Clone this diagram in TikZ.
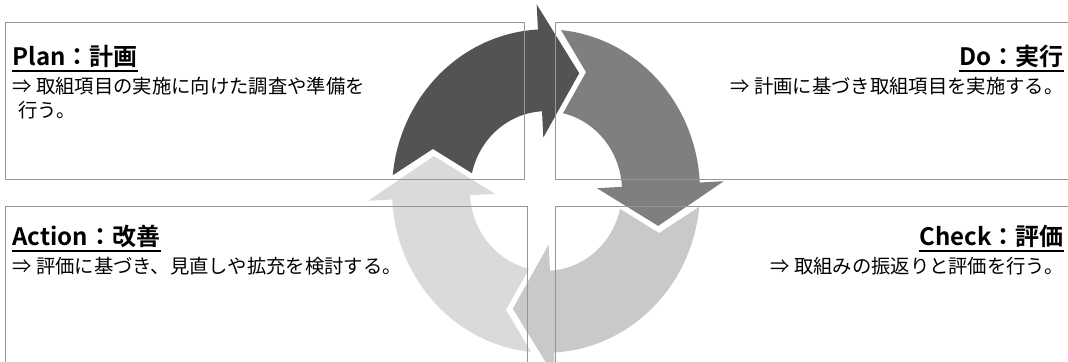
\documentclass[tikz,border=0pt]{standalone}
\usepackage{fontspec}
\setmainfont{Noto Sans CJK JP}[BoldFont={Noto Sans CJK JP Bold}]

\tikzset{every picture/.style={line width=0.75pt}}
\tikzset{
  box/.style={draw={rgb, 255:red, 150; green, 150; blue, 150 }, line width=0.75pt},
  ring/.style={shift={(546,191)}, yscale=1.05},
  titletext/.style={font=\bfseries\fontsize{18}{20}\selectfont, inner xsep=0pt, inner ysep=2.5pt},
  bodytext/.style={font=\fontsize{14.5}{17}\selectfont, inner sep=0pt},
  uline/.style={line width=1.3pt}
}

\begin{document}
\begin{tikzpicture}[x=0.75pt,y=0.75pt,yscale=-1,xscale=1]
	\clip (0,0) rectangle (1068,361);
	\fill[white] (0,0) rectangle (1068,361);

	%Shape: Circular Arrow [Check] 
	\begin{scope}[ring, rotate=0]
	\fill [fill={rgb, 255:red, 201; green, 201; blue, 201 }] (5.6:154) arc[start angle=5.6, end angle=87, radius=154] -- (87:178) -- (106.5:117) -- (87:51) -- (87:76) arc[start angle=87, end angle=12.9, radius=76] -- (19.5:120) -- cycle ;
	\end{scope}
	%Shape: Circular Arrow [Action] 
	\begin{scope}[ring, rotate=90]
	\fill [fill={rgb, 255:red, 218; green, 218; blue, 218 }] (5.6:154) arc[start angle=5.6, end angle=87, radius=154] -- (87:178) -- (106.5:117) -- (87:51) -- (87:76) arc[start angle=87, end angle=12.9, radius=76] -- (19.5:120) -- cycle ;
	\end{scope}
	%Shape: Circular Arrow [Plan] 
	\begin{scope}[ring, rotate=180]
	\fill [fill={rgb, 255:red, 83; green, 83; blue, 83 }] (5.6:154) arc[start angle=5.6, end angle=87, radius=154] -- (87:178) -- (106.5:117) -- (87:51) -- (87:76) arc[start angle=87, end angle=12.9, radius=76] -- (19.5:120) -- cycle ;
	\end{scope}
	%Shape: Circular Arrow [Do] 
	\begin{scope}[ring, rotate=270]
	\fill [fill={rgb, 255:red, 127; green, 127; blue, 127 }] (5.6:154) arc[start angle=5.6, end angle=87, radius=154] -- (87:178) -- (106.5:117) -- (87:51) -- (87:76) arc[start angle=87, end angle=12.9, radius=76] -- (19.5:120) -- cycle ;
	\end{scope}

	%Shape: Rectangle [Plan] 
	\draw [box] (5,22) rectangle (524,179) ;
	%Shape: Rectangle [Do] 
	\draw [box] (555,22) rectangle (1080,179) ;
	%Shape: Rectangle [Action] 
	\draw [box] (5,206) rectangle (527,380) ;
	%Shape: Rectangle [Check] 
	\draw [box] (555,206) rectangle (1080,380) ;

	% Text Node
	\node [titletext, anchor=west] (plantitle) at (12,56) {Plan：計画};
	\draw [uline] (plantitle.south west) -- (plantitle.south east) ;
	% Text Node
	\node [bodytext, anchor=west] (planline) at (12,86) {⇒ 取組項目の実施に向けた調査や準備を};
	% Text Node
	\node [bodytext, anchor=west] (planwrap) at (18,110) {行う。};
	% Text Node
	\node [titletext, anchor=east] (dotitle) at (1064,56) {Do：実行};
	\draw [uline] (dotitle.south west) -- (dotitle.south east) ;
	% Text Node
	\node [bodytext, anchor=east] (doline) at (1064,86) {⇒ 計画に基づき取組項目を実施する。};
	% Text Node
	\node [titletext, anchor=west] (actiontitle) at (12,236) {Action：改善};
	\draw [uline] (actiontitle.south west) -- (actiontitle.south east) ;
	% Text Node
	\node [bodytext, anchor=west] (actionline) at (12,266) {⇒ 評価に基づき、見直しや拡充を検討する。};
	% Text Node
	\node [titletext, anchor=east] (checktitle) at (1064,236) {Check：評価};
	\draw [uline] (checktitle.south west) -- (checktitle.south east) ;
	% Text Node
	\node [bodytext, anchor=east] (checkline) at (1064,266) {⇒ 取組みの振返りと評価を行う。};

\end{tikzpicture}
\end{document}
